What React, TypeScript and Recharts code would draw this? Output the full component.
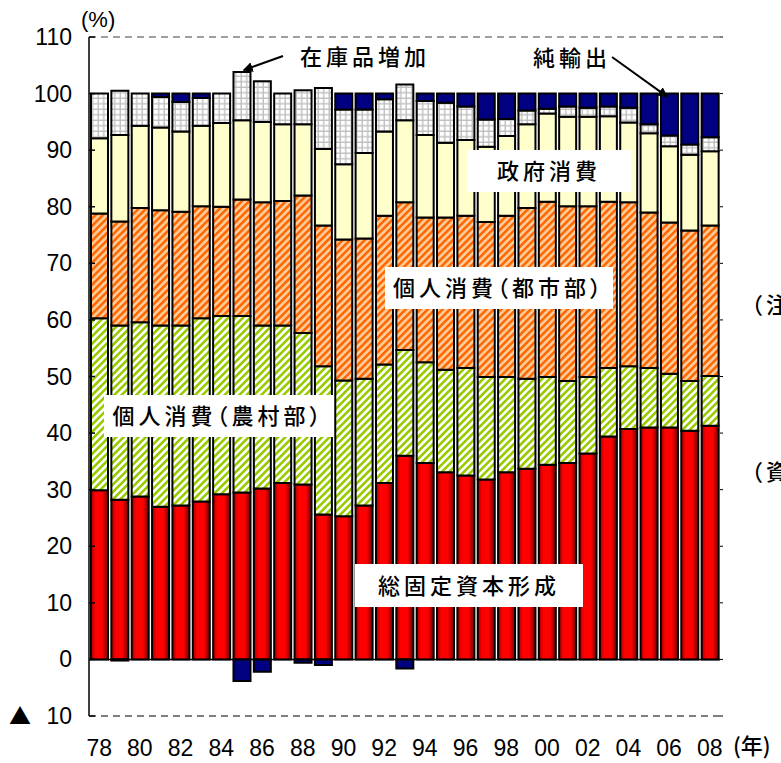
import React from "react";
import { BarChart, Bar, XAxis, YAxis, ReferenceLine } from "recharts";

const years = ["78", "79", "80", "81", "82", "83", "84", "85", "86", "87", "88", "89", "90", "91", "92", "93", "94", "95", "96", "97", "98", "99", "00", "01", "02", "03", "04", "05", "06", "07", "08"];
const fixedCapital = [29.9, 28.2, 28.8, 27.0, 27.2, 27.9, 29.2, 29.5, 30.2, 31.2, 30.9, 25.6, 25.3, 27.2, 31.2, 36.0, 34.7, 33.1, 32.5, 31.8, 33.1, 33.7, 34.4, 34.7, 36.4, 39.4, 40.7, 41.0, 41.0, 40.4, 41.3];
const ruralConsumption = [30.4, 30.8, 30.8, 32.0, 31.8, 32.4, 31.5, 31.2, 28.8, 27.8, 26.8, 26.2, 24.0, 22.4, 20.9, 18.7, 17.8, 18.1, 19.0, 18.1, 16.8, 15.9, 15.5, 14.5, 13.5, 12.1, 11.1, 10.5, 9.5, 8.8, 8.8];
const urbanConsumption = [18.5, 18.4, 20.2, 20.4, 20.1, 19.8, 19.3, 20.6, 21.8, 22.0, 24.3, 24.9, 24.9, 24.8, 26.3, 26.1, 25.6, 26.9, 26.9, 27.4, 28.5, 30.2, 31.0, 30.9, 30.2, 29.4, 29.0, 27.5, 26.7, 26.6, 26.6];
const govConsumption = [13.3, 15.3, 14.5, 14.6, 14.2, 14.2, 14.8, 14.0, 14.2, 13.6, 12.6, 13.5, 13.3, 15.1, 14.9, 14.5, 14.6, 13.2, 13.4, 13.3, 14.1, 14.8, 15.6, 15.8, 15.8, 15.1, 14.1, 14.0, 13.5, 13.4, 13.1];
const inventory = [7.9, 7.8, 5.7, 5.4, 5.2, 4.9, 5.2, 8.5, 7.2, 5.4, 6.0, 10.8, 9.7, 7.7, 5.7, 6.3, 6.0, 7.1, 5.9, 4.8, 3.0, 2.4, 0.8, 1.8, 1.6, 1.7, 2.6, 1.6, 1.9, 1.8, 2.5];
const netExports = [0, -0.2, 0, 0.6, 1.5, 0.8, 0, -3.8, -2.2, 0, -0.6, -1.0, 2.8, 2.8, 1.0, -1.6, 1.3, 1.6, 2.3, 4.6, 4.5, 3.0, 2.7, 2.3, 2.5, 2.3, 2.5, 5.4, 7.4, 9.0, 7.7];
const yTicks = [-10, 0, 10, 20, 30, 40, 50, 60, 70, 80, 90, 100, 110];

const data = years.map((year, i) => ({
  year,
  fixedCapital: fixedCapital[i],
  ruralConsumption: ruralConsumption[i],
  urbanConsumption: urbanConsumption[i],
  govConsumption: govConsumption[i],
  inventory: inventory[i],
  netExports: netExports[i],
}));

const W = 781;
const H = 763;
const PLOT_LEFT = 89;
const PLOT_RIGHT = 720;
const PLOT_TOP = 37;
const PLOT_BOTTOM = 716;
const Y_MIN = -10;
const Y_MAX = 110;
const BAND = (PLOT_RIGHT - PLOT_LEFT) / years.length;

const NUM_FONT = "'Liberation Sans', Arial, sans-serif";
const JP_FONT = "'Noto Sans CJK JP', sans-serif";

// pixel helpers for the annotation overlay
const yPx = (v: number) => PLOT_TOP + ((Y_MAX - v) / (Y_MAX - Y_MIN)) * (PLOT_BOTTOM - PLOT_TOP);
const xPx = (i: number) => PLOT_LEFT + BAND * (i + 0.5);
const posTop = (i: number) =>
  fixedCapital[i] + ruralConsumption[i] + urbanConsumption[i] + govConsumption[i] + inventory[i] + Math.max(netExports[i], 0);

const YTick = (props: any) => {
  const { y, payload } = props;
  const v = payload.value as number;
  return (
    <g>
      <line x1={PLOT_LEFT} x2={PLOT_LEFT + 6} y1={y} y2={y} stroke="#000" strokeWidth={1.5} />
      <line x1={PLOT_RIGHT} x2={PLOT_RIGHT + 3} y1={y} y2={y} stroke="#000" strokeWidth={1} />
      {v < 0 && (
        <text x={20} y={y} dy={8} textAnchor="middle" fontSize={22} fontFamily={JP_FONT} fill="#000">
          ▲
        </text>
      )}
      <text x={72} y={y} dy={8} textAnchor="end" fontSize={23} fontFamily={NUM_FONT} fill="#000">
        {Math.abs(v)}
      </text>
    </g>
  );
};

const XTick = (props: any) => {
  const { x, payload } = props;
  return (
    <text x={x} y={756} textAnchor="middle" fontSize={23} fontFamily={NUM_FONT} fill="#000">
      {payload.value}
    </text>
  );
};

const jpStyle = { fontFeatureSettings: '"palt"' } as React.CSSProperties;

const Label = ({ x, y, w, h, text }: { x: number; y: number; w: number; h: number; text: string }) => (
  <g>
    <rect x={x} y={y} width={w} height={h} fill="#fff" />
    <text
      x={x + w / 2}
      y={y + h / 2}
      dy={8}
      textAnchor="middle"
      fontSize={22}
      fontWeight={500}
      letterSpacing={4}
      fontFamily={JP_FONT}
      fill="#000"
      style={jpStyle}
    >
      {text}
    </text>
  </g>
);

const stroke = { stroke: "#000", strokeWidth: 2 };

export default function App() {
  const invIdx = 7; // 85
  const netIdx = 28; // 06
  return (
    <div style={{ position: "fixed", left: 0, top: 0, width: W, height: H, overflow: "hidden", background: "#fff" }}>
      <BarChart
        width={W}
        height={H}
        data={data}
        stackOffset="sign"
        barSize={17}
        margin={{ top: PLOT_TOP, right: W - PLOT_RIGHT, bottom: 0, left: PLOT_LEFT - 60 }}
      >
        <defs>
          <linearGradient id="redGrad" x1="0" y1="0" x2="1" y2="0">
            <stop offset="0%" stopColor="#a00000" />
            <stop offset="25%" stopColor="#ff0000" />
            <stop offset="65%" stopColor="#ff0000" />
            <stop offset="100%" stopColor="#700000" />
          </linearGradient>
          <pattern id="greenHatch" patternUnits="userSpaceOnUse" width="5.2" height="5.2" patternTransform="rotate(45)">
            <rect width="5.2" height="5.2" fill="#ffffff" />
            <rect width="2.6" height="5.2" fill="#99cc00" />
          </pattern>
          <pattern id="orangeHatch" patternUnits="userSpaceOnUse" width="5.2" height="5.2" patternTransform="rotate(45)">
            <rect width="5.2" height="5.2" fill="#ffcc99" />
            <rect width="2.5" height="5.2" fill="#ff6600" />
          </pattern>
          <pattern id="grayGrid" patternUnits="userSpaceOnUse" width="5.5" height="5.5">
            <rect width="5.5" height="5.5" fill="#ffffff" />
            <rect x="4.1" width="1.4" height="5.5" fill="#c0c0c0" />
            <rect y="4.1" width="5.5" height="1.4" fill="#c0c0c0" />
          </pattern>
        </defs>
        <XAxis
          dataKey="year"
          height={H - PLOT_BOTTOM}
          axisLine={false}
          tickLine={false}
          interval={1}
          tick={<XTick />}
        />
        <YAxis
          width={60}
          domain={[Y_MIN, Y_MAX]}
          ticks={yTicks}
          interval={0}
          allowDataOverflow
          axisLine={{ stroke: "#000", strokeWidth: 1.5 }}
          tickLine={false}
          tick={<YTick />}
        />
        <ReferenceLine y={110} stroke="#808080" strokeWidth={1.5} strokeDasharray="7 5" />
        <ReferenceLine y={-10} stroke="#000" strokeWidth={1.2} strokeDasharray="7 5" />
        <Bar dataKey="fixedCapital" stackId="a" fill="url(#redGrad)" {...stroke} isAnimationActive={false} />
        <Bar dataKey="ruralConsumption" stackId="a" fill="url(#greenHatch)" {...stroke} isAnimationActive={false} />
        <Bar dataKey="urbanConsumption" stackId="a" fill="url(#orangeHatch)" {...stroke} isAnimationActive={false} />
        <Bar dataKey="govConsumption" stackId="a" fill="#ffffcc" {...stroke} isAnimationActive={false} />
        <Bar dataKey="inventory" stackId="a" fill="url(#grayGrid)" {...stroke} isAnimationActive={false} />
        <Bar dataKey="netExports" stackId="a" fill="#000080" {...stroke} isAnimationActive={false} />
        <ReferenceLine y={0} stroke="#000" strokeWidth={1.5} />
      </BarChart>
      <svg width={W} height={H} style={{ position: "absolute", left: 0, top: 0, pointerEvents: "none" }}>
        <defs>
          <marker id="arrow" viewBox="0 0 10 10" refX="9" refY="5" markerWidth="5" markerHeight="5" orient="auto">
            <path d="M0,0 L10,5 L0,10 z" fill="#000" />
          </marker>
        </defs>
        <text x={81} y={27} fontSize={22} fontFamily={NUM_FONT} fill="#000">(%)</text>
        <text x={733} y={754} fontSize={22} fontWeight={500} fontFamily={JP_FONT} fill="#000">(年)</text>
        <text x={741} y={313} fontSize={22} fontWeight={500} letterSpacing={3} fontFamily={JP_FONT} fill="#000">（注）</text>
        <text x={741} y={480} fontSize={22} fontWeight={500} letterSpacing={3} fontFamily={JP_FONT} fill="#000">（資料）</text>

        <text x={300} y={65} fontSize={22} fontWeight={500} letterSpacing={4} fontFamily={JP_FONT} fill="#000" style={jpStyle}>在庫品増加</text>
        <line x1={283} y1={56} x2={xPx(invIdx) + 2} y2={yPx(posTop(invIdx)) - 2} stroke="#000" strokeWidth={2} markerEnd="url(#arrow)" />
        <text x={533} y={66} fontSize={22} fontWeight={500} letterSpacing={4} fontFamily={JP_FONT} fill="#000" style={jpStyle}>純輸出</text>
        <line x1={612} y1={57} x2={xPx(netIdx) - 2} y2={yPx(100) + 3} stroke="#000" strokeWidth={2} markerEnd="url(#arrow)" />

        <Label x={467} y={150} w={164} h={42} text="政府消費" />
        <Label x={385} y={267} w={228} h={42} text="個人消費（都市部）" />
        <Label x={104} y={395} w={229} h={42} text="個人消費（農村部）" />
        <Label x={355} y={564} w={228} h={43} text="総固定資本形成" />
      </svg>
    </div>
  );
}
